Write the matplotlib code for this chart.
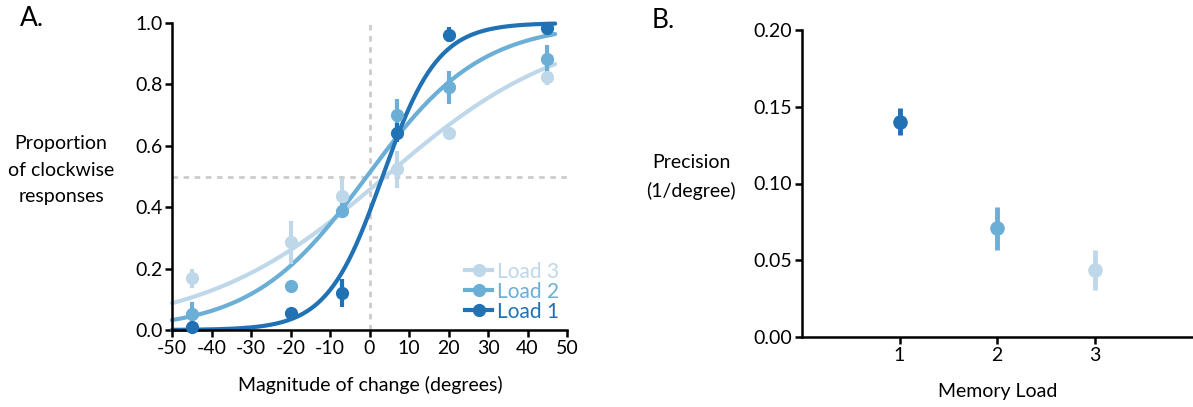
import numpy as np
import matplotlib
matplotlib.use("Agg")
import matplotlib.pyplot as plt
from matplotlib.lines import Line2D

plt.rcParams['font.family'] = ['Lato', 'DejaVu Sans']
plt.rcParams['axes.unicode_minus'] = False

# ---- Panel A data ----
change_deg = [-45, -20, -7, 7, 20, 45]
loads = ["Load 1", "Load 2", "Load 3"]
prop_load1 = [0.011, 0.054, 0.12, 0.643, 0.962, 0.984]
err_load1 = [0.012, 0.008, 0.045, 0.03, 0.025, 0.013]
prop_load2 = [0.052, 0.143, 0.389, 0.701, 0.790, 0.884]
err_load2 = [0.04, 0.0, 0.025, 0.05, 0.053, 0.045]
prop_load3 = [0.168, 0.286, 0.438, 0.524, 0.641, 0.824]
err_load3 = [0.03, 0.07, 0.057, 0.06, 0.02, 0.027]
# fitted logistic psychometric functions: (mu, scale)
fit_load1 = (3.3, 7.0)
fit_load2 = (-0.7, 14.5)
fit_load3 = (4.0, 23.0)

# ---- Panel B data ----
memory_load = [1, 2, 3]
precision = [0.1403, 0.0709, 0.0434]
precision_err = [0.0089, 0.014, 0.013]

colors = {"Load 1": "#2171b5", "Load 2": "#6baed6", "Load 3": "#bed8ea"}

fig = plt.figure(figsize=(11.93, 4.07), dpi=100)
axA = fig.add_axes([172/1193, 77/407, 395/1193, 307/407])
axB = fig.add_axes([802/1193, 70/407, 390/1193, 307/407])

fs = 14
dash_col = "#cccccc"

# Panel A
axA.axvline(0, color=dash_col, lw=2, ls=(0, (2, 2)), zorder=0)
axA.axhline(0.5, color=dash_col, lw=2, ls=(0, (2, 2)), zorder=0)

series = [("Load 3", prop_load3, err_load3, fit_load3),
          ("Load 2", prop_load2, err_load2, fit_load2),
          ("Load 1", prop_load1, err_load1, fit_load1)]
xs = np.linspace(-50, 47, 300)
handles = []
for name, p, e, (mu, s) in series:
    c = colors[name]
    axA.plot(xs, 1/(1+np.exp(-(xs-mu)/s)), color=c, lw=3, solid_capstyle='round', zorder=2, clip_on=False)
    axA.errorbar(change_deg, p, yerr=e, fmt='o', color=c, ms=8.5, elinewidth=3, capsize=0, zorder=3, clip_on=False)
    handles.append(Line2D([], [], color=c, lw=3, marker='o', ms=8.5, label=name))

leg = axA.legend(handles=handles, loc='lower right', frameon=False, fontsize=15,
                 handlelength=1.3, handletextpad=0.2, labelspacing=0.0,
                 borderaxespad=0.0, bbox_to_anchor=(1.0, 0.0))
for t, h in zip(leg.get_texts(), handles):
    t.set_color(h.get_color())

axA.set_xlim(-50, 50)
axA.set_ylim(0, 1.0)
axA.set_xticks(np.arange(-50, 51, 10))
axA.set_yticks(np.arange(0, 1.01, 0.2))
axA.set_yticklabels([f"{v:.1f}" for v in np.arange(0, 1.01, 0.2)])

# Panel B
for x, y, e, name in zip(memory_load, precision, precision_err, loads):
    axB.errorbar([x], [y], yerr=[e], fmt='o', color=colors[name], ms=9.5, elinewidth=3.5, capsize=0, zorder=3)
axB.set_xlim(0, 4)
axB.set_ylim(0, 0.20)
axB.set_xticks(memory_load)
axB.set_yticks(np.arange(0, 0.201, 0.05))
axB.set_yticklabels([f"{v:.2f}" for v in np.arange(0, 0.201, 0.05)])

for ax in (axA, axB):
    for sp in ('top', 'right'):
        ax.spines[sp].set_visible(False)
    for sp in ('left', 'bottom'):
        ax.spines[sp].set_linewidth(1.8)
    ax.tick_params(width=1.8, length=5, labelsize=fs, pad=2)

fig.text(61/1193, 1-170/407, "Proportion\nof clockwise\nresponses", ha='center', va='center',
         fontsize=fs, linespacing=1.65)
fig.text(370/1193, 1-385/407, "Magnitude of change (degrees)", ha='center', va='center', fontsize=fs)
fig.text(691/1193, 1-177/407, "Precision\n(1/degree)", ha='center', va='center', fontsize=fs, linespacing=1.75)
fig.text(998/1193, 1-392/407, "Memory Load", ha='center', va='center', fontsize=fs)
fig.text(20/1193, 1-18/407, "A.", ha='left', va='center', fontsize=19)
fig.text(652/1193, 1-20/407, "B.", ha='left', va='center', fontsize=19)

fig.savefig("out.png", dpi=100)
